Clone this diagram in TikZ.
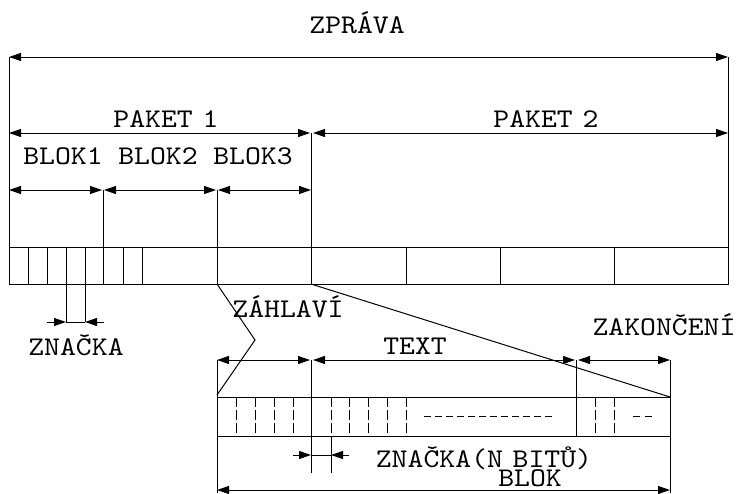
\documentclass[tikz,border=0pt]{standalone}
\usepackage{fontspec}
\newfontfamily\lbfont{lmmono10-regular.otf}[FakeStretch=1.12]
\usetikzlibrary{arrows.meta}
\begin{document}
\begin{tikzpicture}[x=1pt,y=-1pt,line width=1pt,
  >={Triangle[length=12pt,width=8pt]},
  lbl/.style={font=\lbfont\fontsize{27}{27}\selectfont,inner sep=0pt,anchor=base},
  dashv/.style={dash pattern=on 10pt off 3pt},
  dashh/.style={dash pattern=on 7pt off 4pt},
  dashs/.style={dash pattern=on 7pt off 5pt}]
\useasboundingbox (0,0) rectangle (739,493);
% labels
\node[lbl] (zprava) at (357,33) {ZPRÁVA};
\node[lbl] (paket1) at (166,127) {PAKET\hspace{-6pt} 1};
\node[lbl] (paket2) at (546,127) {PAKET\hspace{-6pt} 2};
\node[lbl] (blok1) at (63,164) {BLOK1};
\node[lbl] (blok2) at (158,164) {BLOK2};
\node[lbl] (blok3) at (253,164) {BLOK3};
\node[lbl] (znacka) at (76,355) {ZNAČKA};
\node[lbl] (zahlavi) at (288,317) {ZÁHLAVÍ};
\node[lbl] (text) at (415,354) {TEXT};
\node[lbl] (zakonceni) at (664,335) {ZAKONČENÍ};
\node[lbl] (znbit) at (484,467) {ZNAČKA(N\hspace{-6pt} BITŮ)};
\node[lbl] (blok) at (530,486) {BLOK};
% upper part
\draw (9,57) -- (9,284);
\draw (728,57) -- (728,284);
\draw[<->] (9,57) -- (728,57);
\draw[<->] (9,133) -- (310,133);
\draw[<->] (313,133) -- (728,133);
\draw (311,133) -- (311,284);
\draw[<->] (9,190) -- (102,190);
\draw[<->] (104,190) -- (216,190);
\draw[<->] (218,190) -- (311,190);
\draw (103,190) -- (103,284);
\draw (217,190) -- (217,284);
\draw (9,247) rectangle (728,284);
\foreach \x in {28,47,66,85,123,142,406,500,614} \draw (\x,247) -- (\x,284);
\draw (66,284) -- (66,322);
\draw (85,284) -- (85,322);
\draw[->] (47,322) -- (66,322);
\draw[->] (104,322) -- (85,322);
\draw (66,322) -- (85,322);
% expansion lines
\draw (217,284) -- (255,340) -- (217,395);
\draw (311,284) -- (670,397);
% lower part
\draw[<->] (217,360) -- (310,360);
\draw[<->] (313,360) -- (575,360);
\draw[<->] (578,360) -- (670,360);
\draw (217,360) -- (217,493);
\draw (670,360) -- (670,493);
\draw (311,360) -- (311,473);
\draw (576,360) -- (576,436);
\draw (217,397) -- (670,397);
\draw (217,436) -- (670,436);
\foreach \x in {236,255,274,293,331,349,368,387,406,595,614} \draw[dashv] (\x,397) -- (\x,436);
\draw (331,436) -- (331,473);
\draw[->] (293,455) -- (311,455);
\draw[->] (349,455) -- (331,455);
\draw (311,455) -- (331,455);
\draw[dashh] (424,416) -- (553,416);
\draw[dashs] (633,416) -- (652,416);
\draw[<->] (217,490) -- (670,490);
\end{tikzpicture}
\end{document}
